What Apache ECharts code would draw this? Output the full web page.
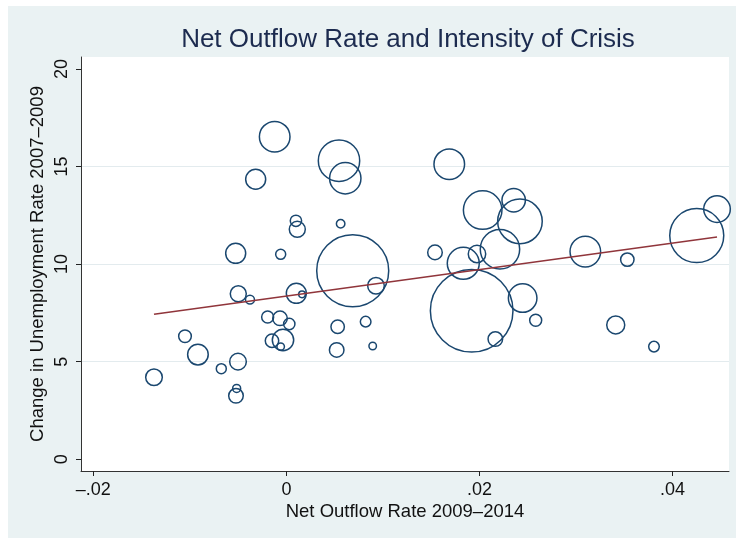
<!DOCTYPE html>
<html><head><meta charset="utf-8">
<script src="https://cdn.jsdelivr.net/npm/echarts@6/dist/echarts.min.js"></script>
<style>html,body{margin:0;padding:0;background:#fff}#c{width:736px;height:538px}</style>
</head><body><div id="c"></div>
<script>
const titleText = 'Net Outflow Rate and Intensity of Crisis';
const xTitle = 'Net Outflow Rate 2009–2014';
const yTitle = 'Change in Unemployment Rate 2007–2009';
const xTicks = { min: -0.02, max: 0.04, step: 0.02 };
const yTicks = { min: 0, max: 20, step: 5 };

const netOutflow = [
  -0.01371, -0.01050, -0.00916, -0.00674, -0.00501, -0.00515, -0.00522, -0.00525, -0.00059, -0.00498,
  -0.00377, -0.00194, -0.00066, 0.00030, -0.00149, -0.00035, -0.00059, 0.00103, 0.00162, -0.00121,
  -0.00318, 0.00099, 0.00113, 0.00545, 0.00610, 0.00562, 0.00687, 0.00928, 0.00531, 0.00821,
  0.00521, 0.00894, 0.01687, 0.02033, 0.02354, 0.02419, 0.02212, 0.01832, 0.01974, 0.01539,
  0.01919, 0.02447, 0.02582, 0.02164, 0.03096, 0.03531, 0.04250, 0.04460, 0.03411, 0.03807
];
const unempChange = [
  4.20, 6.30, 5.36, 4.64, 5.00, 3.63, 3.25, 10.55, 10.50, 8.48,
  8.18, 7.29, 7.22, 6.93, 6.07, 6.11, 5.77, 8.50, 8.45, 16.53,
  14.35, 12.22, 11.78, 15.30, 14.40, 12.07, 9.66, 8.89, 6.79, 7.05,
  5.60, 5.80, 15.12, 12.77, 13.27, 12.19, 10.76, 10.04, 10.52, 10.60,
  7.61, 8.26, 7.12, 6.16, 10.64, 10.23, 11.46, 12.82, 6.88, 5.77
];
const weight = [
  6.9, 4.0, 10.6, 2.5, 6.9, 1.6, 5.3, 10.0, 2.5, 6.4,
  2.0, 3.6, 5.3, 3.2, 4.5, 11.4, 1.4, 10.0, 1.1, 23.4,
  10.0, 3.2, 6.4, 42.8, 24.6, 1.8, 129.6, 6.9, 4.5, 2.8,
  5.3, 1.4, 23.4, 37.2, 13.7, 49.7, 38.8, 25.6, 7.6, 5.3,
  170.6, 20.4, 3.6, 5.3, 23.4, 4.5, 72.9, 17.7, 8.1, 2.8
];
const fitX = [-0.01371, 0.04460];
const fitY = [7.43, 11.39];

const xMin = -0.02127, xMax = 0.04584;
const yMin = -0.605, yMax = 20.615;

const FONT = 'Liberation Sans';
const chart = echarts.init(document.getElementById('c'), null, { renderer: 'canvas' });

function fmtX(v) {
  if (Math.abs(v) < 1e-9) return '0';
  const s = Math.abs(v).toFixed(2).replace(/^0/, '');
  return (v < 0 ? '–' : '') + s;
}
function fmtY(v) { return v < yTicks.min ? '' : String(v); }

// tick grid extended one step below 0 so that the 0 tick is drawn
const yPx = 19.51;
const yTickGridBottom = 538 - (459.2 + yTicks.step * yPx);

chart.setOption({
  animation: false,
  backgroundColor: '#eaf2f3',
  graphic: [
    { type: 'rect', silent: true, shape: { x: 0, y: 0, width: 736, height: 6 }, style: { fill: '#ffffff' } },
    { type: 'rect', silent: true, shape: { x: 0, y: 0, width: 8, height: 538 }, style: { fill: '#ffffff' } }
  ],
  title: {
    text: titleText, left: 403, top: 22, textAlign: 'center',
    textStyle: { fontFamily: FONT, fontSize: 26, fontWeight: 'normal', color: '#1c2b4f' }
  },
  grid: [
    { left: 81, right: 7, top: 57, bottom: 67, show: true, backgroundColor: '#ffffff', borderWidth: 0, outerBoundsMode: 'none', containLabel: false },
    { left: 81, right: 7, top: 69, bottom: yTickGridBottom, outerBoundsMode: 'none', containLabel: false },
    { left: 93.3, right: 63.4, top: 57, bottom: 67, outerBoundsMode: 'none', containLabel: false },
    { left: 81, right: 7, top: 69, bottom: 78.8, outerBoundsMode: 'none', containLabel: false }
  ],
  xAxis: [
    { gridIndex: 0, type: 'value', min: xMin, max: xMax, position: 'bottom',
      axisLine: { show: true, onZero: false, lineStyle: { color: '#333', width: 1 } },
      axisTick: { show: false }, axisLabel: { show: false }, splitLine: { show: false },
      name: xTitle, nameLocation: 'middle', nameGap: 31,
      nameTextStyle: { fontFamily: FONT, fontSize: 18.5, color: '#111' } },
    { gridIndex: 1, type: 'value', show: false, min: xMin, max: xMax, axisLine: { onZero: false } },
    { gridIndex: 2, type: 'value', min: xTicks.min, max: xTicks.max, interval: xTicks.step, position: 'bottom',
      axisLine: { show: false, onZero: false }, axisTick: { show: true, length: 5, lineStyle: { color: '#222', width: 1 } },
      axisLabel: { formatter: fmtX, margin: 10, fontFamily: FONT, fontSize: 18, color: '#111' },
      splitLine: { show: false } },
    { gridIndex: 3, type: 'value', show: false, min: xMin, max: xMax, axisLine: { onZero: false } }
  ],
  yAxis: [
    { gridIndex: 0, type: 'value', min: yMin, max: yMax, position: 'left',
      axisLine: { show: true, onZero: false, lineStyle: { color: '#333', width: 1 } },
      axisTick: { show: false }, axisLabel: { show: false }, splitLine: { show: false },
      name: yTitle, nameLocation: 'middle', nameRotate: 90, nameGap: 34,
      nameTextStyle: { fontFamily: FONT, fontSize: 18.5, color: '#111' } },
    { gridIndex: 1, type: 'value', min: yTicks.min - yTicks.step, max: yTicks.max, interval: yTicks.step, position: 'left',
      axisLine: { show: false, onZero: false }, axisTick: { show: true, length: 5, lineStyle: { color: '#222', width: 1 } },
      axisLabel: { rotate: 90, margin: 10, formatter: fmtY, fontFamily: FONT, fontSize: 18, color: '#111' },
      splitLine: { show: false } },
    { gridIndex: 2, type: 'value', show: false, min: 0, max: 1, axisLine: { onZero: false } },
    { gridIndex: 3, type: 'value', min: yTicks.min, max: yTicks.max, interval: yTicks.step, position: 'left',
      axisLine: { show: false, onZero: false }, axisTick: { show: false }, axisLabel: { show: false },
      splitLine: { show: true, showMinLine: false, showMaxLine: false, lineStyle: { color: '#e3ebee', width: 1.2 } } }
  ],
  series: [
    { type: 'scatter', xAxisIndex: 0, yAxisIndex: 0,
      data: netOutflow.map((x, i) => [x, unempChange[i], weight[i]]),
      symbol: 'circle',
      symbolSize: d => Math.sqrt(40 * d[2]),
      itemStyle: { color: 'rgba(0,0,0,0)', borderColor: '#1a476f', borderWidth: 1.5, opacity: 1 },
      emphasis: { disabled: true }, silent: true },
    { type: 'line', xAxisIndex: 0, yAxisIndex: 0,
      data: fitX.map((x, i) => [x, fitY[i]]),
      symbol: 'none', lineStyle: { color: '#90353b', width: 1.5 },
      emphasis: { disabled: true }, silent: true, z: 3 }
  ]
});
</script></body></html>
